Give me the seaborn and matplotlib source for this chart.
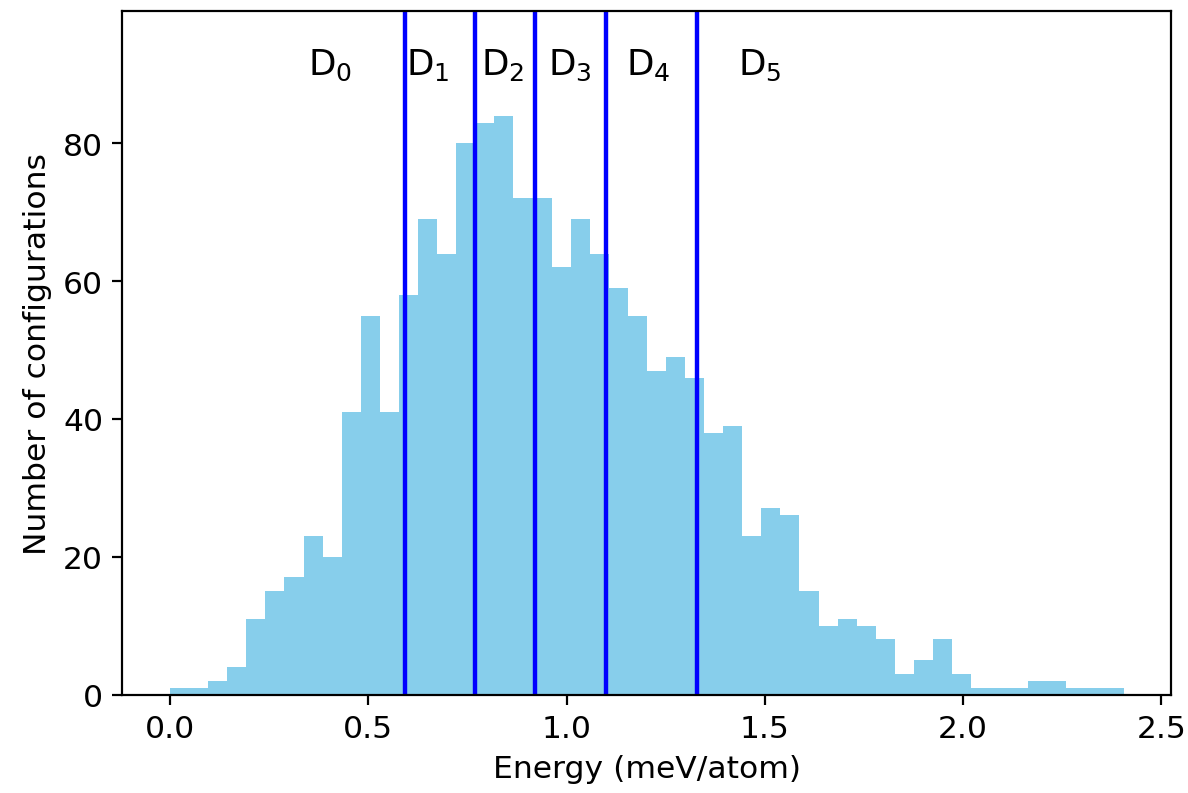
import numpy as np
import pandas as pd
import matplotlib
matplotlib.use("Agg")
import matplotlib.pyplot as plt
import seaborn as sns

# Histogram counts (50 equal bins from 0 to ~2.405 meV/atom)
counts = [1, 1, 2, 4, 11, 15, 17, 23, 20, 41,
          55, 41, 58, 69, 64, 80, 83, 84, 72, 72,
          62, 69, 64, 59, 55, 47, 49, 46, 38, 39,
          23, 27, 26, 15, 10, 11, 10, 8, 3, 5,
          8, 3, 1, 1, 1, 2, 2, 1, 1, 1]
e_min, e_max = 0.0, 2.405
# Region boundaries and labels
boundaries = [0.592, 0.768, 0.921, 1.100, 1.329]
region_labels = ["$\\mathrm{D_0}$", "$\\mathrm{D_1}$", "$\\mathrm{D_2}$",
                 "$\\mathrm{D_3}$", "$\\mathrm{D_4}$", "$\\mathrm{D_5}$"]
label_x = [0.403, 0.649, 0.838, 1.009, 1.206, 1.488]
label_y = 91.5

nbins = len(counts)
edges = np.linspace(e_min, e_max, nbins + 1)
centers = 0.5 * (edges[:-1] + edges[1:])
df = pd.DataFrame({"energy": centers, "count": np.array(counts, dtype=float)})

fig, ax = plt.subplots(figsize=(6.0, 4.01), dpi=198)
sns.histplot(data=df, x="energy", weights="count", bins=nbins,
             binrange=(e_min, e_max), color="skyblue",
             alpha=1, edgecolor="skyblue", linewidth=0, ax=ax)
for b in boundaries:
    ax.axvline(b, color="blue", linewidth=1.6)
for x, t in zip(label_x, region_labels):
    ax.text(x, label_y, t, ha="center", va="center", fontsize=13)

ax.set_ylim(0, 99.2)
ax.set_xlabel("Energy (meV/atom)", fontsize=11.4)
ax.set_ylabel("Number of configurations", fontsize=11.4)
ax.tick_params(labelsize=11.4)
fig.subplots_adjust(left=0.103, right=0.986, top=0.985, bottom=0.124)
fig.savefig("out.png", dpi=198)
